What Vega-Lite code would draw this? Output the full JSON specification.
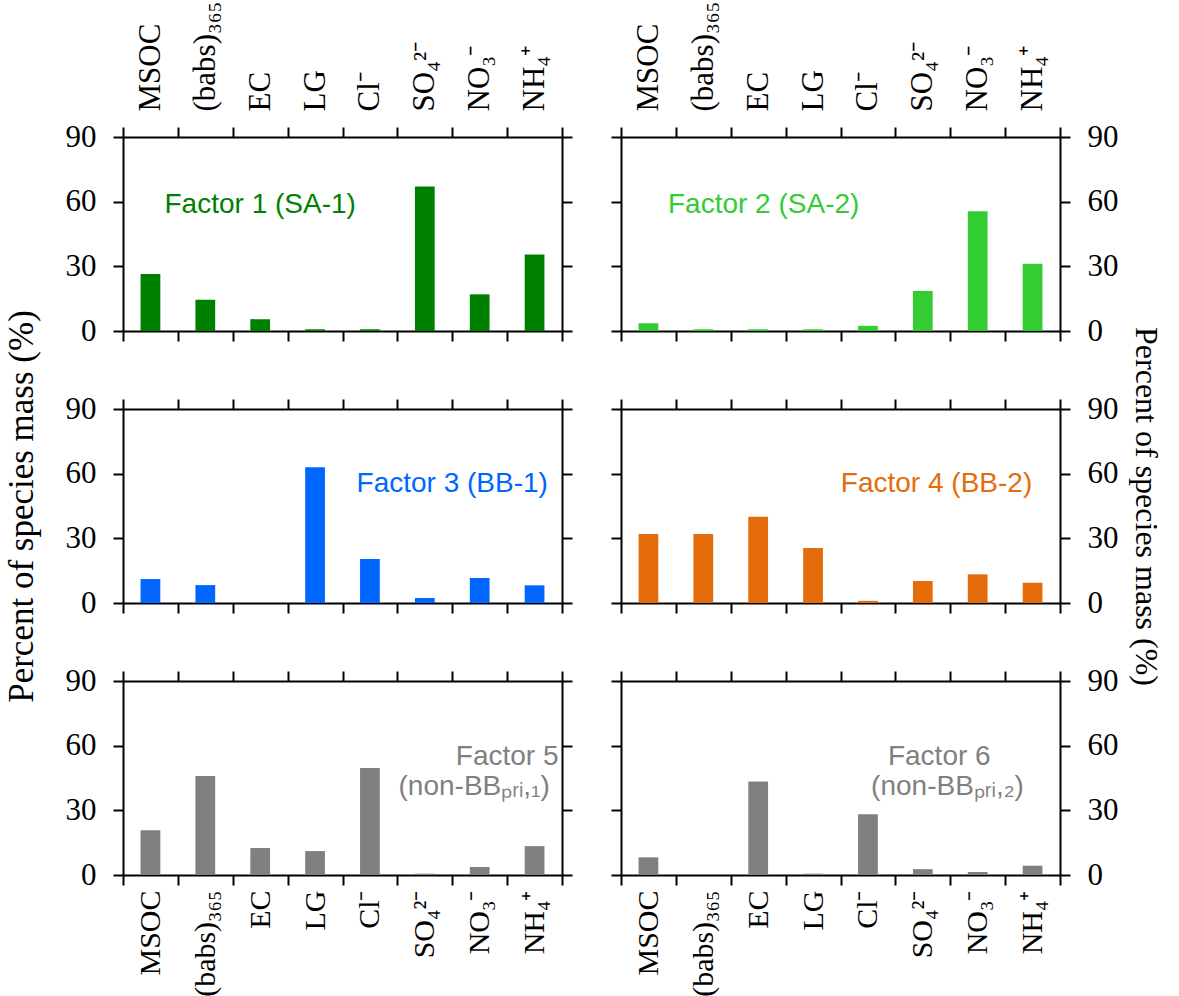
{
  "$schema": "https://vega.github.io/schema/vega-lite/v6.json",
  "padding": {"left": 3, "top": 1, "right": 0, "bottom": 0},
  "background": "white",
  "spacing": 32,
  "datasets": {
    "bars": [
      {"factor": "F1", "species": "MSOC", "value": 26.5},
      {"factor": "F1", "species": "(babs)₃₆₅", "value": 14.5},
      {"factor": "F1", "species": "EC", "value": 5.5},
      {"factor": "F1", "species": "LG", "value": 0.8},
      {"factor": "F1", "species": "Cl⁻", "value": 0.8},
      {"factor": "F1", "species": "SO₄²⁻", "value": 67},
      {"factor": "F1", "species": "NO₃⁻", "value": 17},
      {"factor": "F1", "species": "NH₄⁺", "value": 35.5},
      {"factor": "F2", "species": "MSOC", "value": 3.6},
      {"factor": "F2", "species": "(babs)₃₆₅", "value": 0.8},
      {"factor": "F2", "species": "EC", "value": 0.8},
      {"factor": "F2", "species": "LG", "value": 0.8},
      {"factor": "F2", "species": "Cl⁻", "value": 2.4},
      {"factor": "F2", "species": "SO₄²⁻", "value": 18.6},
      {"factor": "F2", "species": "NO₃⁻", "value": 55.5},
      {"factor": "F2", "species": "NH₄⁺", "value": 31.2},
      {"factor": "F3", "species": "MSOC", "value": 11.1},
      {"factor": "F3", "species": "(babs)₃₆₅", "value": 8.3},
      {"factor": "F3", "species": "EC", "value": 0},
      {"factor": "F3", "species": "LG", "value": 63},
      {"factor": "F3", "species": "Cl⁻", "value": 20.4},
      {"factor": "F3", "species": "SO₄²⁻", "value": 2.3},
      {"factor": "F3", "species": "NO₃⁻", "value": 11.6},
      {"factor": "F3", "species": "NH₄⁺", "value": 8.2},
      {"factor": "F4", "species": "MSOC", "value": 32},
      {"factor": "F4", "species": "(babs)₃₆₅", "value": 32},
      {"factor": "F4", "species": "EC", "value": 40},
      {"factor": "F4", "species": "LG", "value": 25.5},
      {"factor": "F4", "species": "Cl⁻", "value": 1},
      {"factor": "F4", "species": "SO₄²⁻", "value": 10.2},
      {"factor": "F4", "species": "NO₃⁻", "value": 13.3},
      {"factor": "F4", "species": "NH₄⁺", "value": 9.4},
      {"factor": "F5", "species": "MSOC", "value": 20.8},
      {"factor": "F5", "species": "(babs)₃₆₅", "value": 45.9},
      {"factor": "F5", "species": "EC", "value": 12.5},
      {"factor": "F5", "species": "LG", "value": 11.1},
      {"factor": "F5", "species": "Cl⁻", "value": 49.6},
      {"factor": "F5", "species": "SO₄²⁻", "value": 0.6},
      {"factor": "F5", "species": "NO₃⁻", "value": 3.7},
      {"factor": "F5", "species": "NH₄⁺", "value": 13.4},
      {"factor": "F6", "species": "MSOC", "value": 8.2},
      {"factor": "F6", "species": "(babs)₃₆₅", "value": 0},
      {"factor": "F6", "species": "EC", "value": 43.4},
      {"factor": "F6", "species": "LG", "value": 0.6},
      {"factor": "F6", "species": "Cl⁻", "value": 28.2},
      {"factor": "F6", "species": "SO₄²⁻", "value": 2.7},
      {"factor": "F6", "species": "NO₃⁻", "value": 1.4},
      {"factor": "F6", "species": "NH₄⁺", "value": 4.3}
    ],
    "labels": [
      {"factor": "F1", "line": 1, "species": "EC", "pos": 58.5, "label": "Factor 1 (SA-1)"},
      {"factor": "F2", "line": 1, "species": "EC", "pos": 58.5, "label": "Factor 2 (SA-2)"},
      {"factor": "F3", "line": 1, "species": "NO₃⁻", "pos": 55, "label": "Factor 3 (BB-1)"},
      {"factor": "F4", "line": 1, "species": "SO₄²⁻", "pos": 55, "label": "Factor 4 (BB-2)"},
      {"factor": "F5", "line": 1, "species": "NH₄⁺", "pos": 54.7, "label": "Factor 5"},
      {"factor": "F5", "line": 2, "species": "NO₃⁻", "pos": 40.8, "label": "(non-BBₚᵣᵢ,₁)"},
      {"factor": "F6", "line": 1, "species": "SO₄²⁻", "pos": 54.7, "label": "Factor 6"},
      {"factor": "F6", "line": 2, "species": "SO₄²⁻", "pos": 40.8, "label": "(non-BBₚᵣᵢ,₂)"}
    ]
  },
  "hconcat": [
    {
      "bounds": "flush",
      "spacing": 78,
      "vconcat": [
        {
          "width": 439, "height": 194,
          "resolve": {"axis": {"x": "independent", "y": "independent"}},
          "layer": [
            {
              "data": {"name": "bars"},
              "transform": [{"filter": "datum.factor == 'F1'"}],
              "mark": {"type": "bar", "color": "#008000", "width": {"band": 0.36}},
              "encoding": {
                "x": {"field": "species", "type": "nominal", "scale": {"type": "band", "domain": ["MSOC", "(babs)₃₆₅", "EC", "LG", "Cl⁻", "SO₄²⁻", "NO₃⁻", "NH₄⁺"], "paddingInner": 0, "paddingOuter": 0}, "axis": {"orient": "bottom", "title": null, "tickBand": "extent", "labels": false}},
                "y": {"field": "value", "type": "quantitative", "scale": {"domain": [0, 90], "nice": false}, "axis": {"orient": "left", "title": null, "values": [0, 30, 60, 90], "labelPadding": 17}}
              }
            },
            {
              "data": {"name": "labels"},
              "transform": [{"filter": "datum.factor == 'F1' && datum.line == 1"}],
              "mark": {"type": "text", "font": "Liberation Sans", "fontSize": 28, "color": "#008000", "align": "center", "baseline": "middle"},
              "encoding": {
                "x": {"field": "species", "type": "nominal", "bandPosition": 0.5, "scale": {"type": "band", "domain": ["MSOC", "(babs)₃₆₅", "EC", "LG", "Cl⁻", "SO₄²⁻", "NO₃⁻", "NH₄⁺"], "paddingInner": 0, "paddingOuter": 0}, "axis": {"orient": "top", "title": null, "tickBand": "extent", "labelAngle": 270, "labelAlign": "left", "labelBaseline": "middle", "labelPadding": 16}},
                "y": {"field": "pos", "type": "quantitative", "scale": {"domain": [0, 90], "nice": false}, "axis": {"orient": "right", "title": null, "values": [0, 30, 60, 90], "labels": false}},
                "text": {"field": "label"}
              }
            }
          ]
        },
        {
          "width": 439, "height": 194,
          "resolve": {"axis": {"x": "independent", "y": "independent"}},
          "layer": [
            {
              "data": {"name": "bars"},
              "transform": [{"filter": "datum.factor == 'F3'"}],
              "mark": {"type": "bar", "color": "#0066FF", "width": {"band": 0.36}},
              "encoding": {
                "x": {"field": "species", "type": "nominal", "scale": {"type": "band", "domain": ["MSOC", "(babs)₃₆₅", "EC", "LG", "Cl⁻", "SO₄²⁻", "NO₃⁻", "NH₄⁺"], "paddingInner": 0, "paddingOuter": 0}, "axis": {"orient": "bottom", "title": null, "tickBand": "extent", "labels": false}},
                "y": {"field": "value", "type": "quantitative", "scale": {"domain": [0, 90], "nice": false}, "axis": {"orient": "left", "title": "Percent of species mass (%)", "titlePadding": 26, "values": [0, 30, 60, 90], "labelPadding": 17}}
              }
            },
            {
              "data": {"name": "labels"},
              "transform": [{"filter": "datum.factor == 'F3' && datum.line == 1"}],
              "mark": {"type": "text", "font": "Liberation Sans", "fontSize": 28, "color": "#0066FF", "align": "center", "baseline": "middle"},
              "encoding": {
                "x": {"field": "species", "type": "nominal", "bandPosition": 0, "scale": {"type": "band", "domain": ["MSOC", "(babs)₃₆₅", "EC", "LG", "Cl⁻", "SO₄²⁻", "NO₃⁻", "NH₄⁺"], "paddingInner": 0, "paddingOuter": 0}, "axis": {"orient": "top", "title": null, "tickBand": "extent", "labels": false}},
                "y": {"field": "pos", "type": "quantitative", "scale": {"domain": [0, 90], "nice": false}, "axis": {"orient": "right", "title": null, "values": [0, 30, 60, 90], "labels": false}},
                "text": {"field": "label"}
              }
            }
          ]
        },
        {
          "width": 439, "height": 194,
          "resolve": {"axis": {"x": "independent", "y": "independent"}},
          "layer": [
            {
              "data": {"name": "bars"},
              "transform": [{"filter": "datum.factor == 'F5'"}],
              "mark": {"type": "bar", "color": "#808080", "width": {"band": 0.36}},
              "encoding": {
                "x": {"field": "species", "type": "nominal", "scale": {"type": "band", "domain": ["MSOC", "(babs)₃₆₅", "EC", "LG", "Cl⁻", "SO₄²⁻", "NO₃⁻", "NH₄⁺"], "paddingInner": 0, "paddingOuter": 0}, "axis": {"orient": "bottom", "title": null, "tickBand": "extent", "labelAngle": 270, "labelAlign": "right", "labelBaseline": "middle", "labelPadding": 5, "labelFontSize": 30}},
                "y": {"field": "value", "type": "quantitative", "scale": {"domain": [0, 90], "nice": false}, "axis": {"orient": "left", "title": null, "values": [0, 30, 60, 90], "labelPadding": 17}}
              }
            },
            {
              "data": {"name": "labels"},
              "transform": [{"filter": "datum.factor == 'F5' && datum.line == 1"}],
              "mark": {"type": "text", "font": "Liberation Sans", "fontSize": 28, "color": "#808080", "align": "center", "baseline": "middle"},
              "encoding": {
                "x": {"field": "species", "type": "nominal", "bandPosition": 0, "scale": {"type": "band", "domain": ["MSOC", "(babs)₃₆₅", "EC", "LG", "Cl⁻", "SO₄²⁻", "NO₃⁻", "NH₄⁺"], "paddingInner": 0, "paddingOuter": 0}, "axis": {"orient": "top", "title": null, "tickBand": "extent", "labels": false}},
                "y": {"field": "pos", "type": "quantitative", "scale": {"domain": [0, 90], "nice": false}, "axis": {"orient": "right", "title": null, "values": [0, 30, 60, 90], "labels": false}},
                "text": {"field": "label"}
              }
            },
            {
              "data": {"name": "labels"},
              "transform": [{"filter": "datum.factor == 'F5' && datum.line == 2"}],
              "mark": {"type": "text", "font": "Liberation Sans", "fontSize": 28, "color": "#808080", "align": "center", "baseline": "middle"},
              "encoding": {
                "x": {"field": "species", "type": "nominal", "bandPosition": 0.4, "scale": {"type": "band", "domain": ["MSOC", "(babs)₃₆₅", "EC", "LG", "Cl⁻", "SO₄²⁻", "NO₃⁻", "NH₄⁺"], "paddingInner": 0, "paddingOuter": 0}, "axis": null},
                "y": {"field": "pos", "type": "quantitative", "scale": {"domain": [0, 90], "nice": false}, "axis": null},
                "text": {"field": "label"}
              }
            }
          ]
        }
      ]
    },
    {
      "bounds": "flush",
      "spacing": 78,
      "vconcat": [
        {
          "width": 439, "height": 194,
          "resolve": {"axis": {"x": "independent", "y": "independent"}},
          "layer": [
            {
              "data": {"name": "bars"},
              "transform": [{"filter": "datum.factor == 'F2'"}],
              "mark": {"type": "bar", "color": "#33CC33", "width": {"band": 0.36}},
              "encoding": {
                "x": {"field": "species", "type": "nominal", "scale": {"type": "band", "domain": ["MSOC", "(babs)₃₆₅", "EC", "LG", "Cl⁻", "SO₄²⁻", "NO₃⁻", "NH₄⁺"], "paddingInner": 0, "paddingOuter": 0}, "axis": {"orient": "bottom", "title": null, "tickBand": "extent", "labels": false}},
                "y": {"field": "value", "type": "quantitative", "scale": {"domain": [0, 90], "nice": false}, "axis": {"orient": "left", "title": null, "values": [0, 30, 60, 90], "labels": false}}
              }
            },
            {
              "data": {"name": "labels"},
              "transform": [{"filter": "datum.factor == 'F2' && datum.line == 1"}],
              "mark": {"type": "text", "font": "Liberation Sans", "fontSize": 28, "color": "#33CC33", "align": "center", "baseline": "middle"},
              "encoding": {
                "x": {"field": "species", "type": "nominal", "bandPosition": 0.6, "scale": {"type": "band", "domain": ["MSOC", "(babs)₃₆₅", "EC", "LG", "Cl⁻", "SO₄²⁻", "NO₃⁻", "NH₄⁺"], "paddingInner": 0, "paddingOuter": 0}, "axis": {"orient": "top", "title": null, "tickBand": "extent", "labelAngle": 270, "labelAlign": "left", "labelBaseline": "middle", "labelPadding": 16}},
                "y": {"field": "pos", "type": "quantitative", "scale": {"domain": [0, 90], "nice": false}, "axis": {"orient": "right", "title": null, "values": [0, 30, 60, 90], "labelPadding": 17}},
                "text": {"field": "label"}
              }
            }
          ]
        },
        {
          "width": 439, "height": 194,
          "resolve": {"axis": {"x": "independent", "y": "independent"}},
          "layer": [
            {
              "data": {"name": "bars"},
              "transform": [{"filter": "datum.factor == 'F4'"}],
              "mark": {"type": "bar", "color": "#E46C0A", "width": {"band": 0.36}},
              "encoding": {
                "x": {"field": "species", "type": "nominal", "scale": {"type": "band", "domain": ["MSOC", "(babs)₃₆₅", "EC", "LG", "Cl⁻", "SO₄²⁻", "NO₃⁻", "NH₄⁺"], "paddingInner": 0, "paddingOuter": 0}, "axis": {"orient": "bottom", "title": null, "tickBand": "extent", "labels": false}},
                "y": {"field": "value", "type": "quantitative", "scale": {"domain": [0, 90], "nice": false}, "axis": {"orient": "left", "title": null, "values": [0, 30, 60, 90], "labels": false}}
              }
            },
            {
              "data": {"name": "labels"},
              "transform": [{"filter": "datum.factor == 'F4' && datum.line == 1"}],
              "mark": {"type": "text", "font": "Liberation Sans", "fontSize": 28, "color": "#E46C0A", "align": "center", "baseline": "middle"},
              "encoding": {
                "x": {"field": "species", "type": "nominal", "bandPosition": 0.75, "scale": {"type": "band", "domain": ["MSOC", "(babs)₃₆₅", "EC", "LG", "Cl⁻", "SO₄²⁻", "NO₃⁻", "NH₄⁺"], "paddingInner": 0, "paddingOuter": 0}, "axis": {"orient": "top", "title": null, "tickBand": "extent", "labels": false}},
                "y": {"field": "pos", "type": "quantitative", "scale": {"domain": [0, 90], "nice": false}, "axis": {"orient": "right", "title": "Percent of species mass (%)", "titlePadding": 10, "titleFontSize": 32, "values": [0, 30, 60, 90], "labelPadding": 17}},
                "text": {"field": "label"}
              }
            }
          ]
        },
        {
          "width": 439, "height": 194,
          "resolve": {"axis": {"x": "independent", "y": "independent"}},
          "layer": [
            {
              "data": {"name": "bars"},
              "transform": [{"filter": "datum.factor == 'F6'"}],
              "mark": {"type": "bar", "color": "#808080", "width": {"band": 0.36}},
              "encoding": {
                "x": {"field": "species", "type": "nominal", "scale": {"type": "band", "domain": ["MSOC", "(babs)₃₆₅", "EC", "LG", "Cl⁻", "SO₄²⁻", "NO₃⁻", "NH₄⁺"], "paddingInner": 0, "paddingOuter": 0}, "axis": {"orient": "bottom", "title": null, "tickBand": "extent", "labelAngle": 270, "labelAlign": "right", "labelBaseline": "middle", "labelPadding": 5, "labelFontSize": 30}},
                "y": {"field": "value", "type": "quantitative", "scale": {"domain": [0, 90], "nice": false}, "axis": {"orient": "left", "title": null, "values": [0, 30, 60, 90], "labels": false}}
              }
            },
            {
              "data": {"name": "labels"},
              "transform": [{"filter": "datum.factor == 'F6' && datum.line == 1"}],
              "mark": {"type": "text", "font": "Liberation Sans", "fontSize": 28, "color": "#808080", "align": "center", "baseline": "middle"},
              "encoding": {
                "x": {"field": "species", "type": "nominal", "bandPosition": 0.8, "scale": {"type": "band", "domain": ["MSOC", "(babs)₃₆₅", "EC", "LG", "Cl⁻", "SO₄²⁻", "NO₃⁻", "NH₄⁺"], "paddingInner": 0, "paddingOuter": 0}, "axis": {"orient": "top", "title": null, "tickBand": "extent", "labels": false}},
                "y": {"field": "pos", "type": "quantitative", "scale": {"domain": [0, 90], "nice": false}, "axis": {"orient": "right", "title": null, "values": [0, 30, 60, 90], "labelPadding": 17}},
                "text": {"field": "label"}
              }
            },
            {
              "data": {"name": "labels"},
              "transform": [{"filter": "datum.factor == 'F6' && datum.line == 2"}],
              "mark": {"type": "text", "font": "Liberation Sans", "fontSize": 28, "color": "#808080", "align": "center", "baseline": "middle"},
              "encoding": {
                "x": {"field": "species", "type": "nominal", "bandPosition": 0.95, "scale": {"type": "band", "domain": ["MSOC", "(babs)₃₆₅", "EC", "LG", "Cl⁻", "SO₄²⁻", "NO₃⁻", "NH₄⁺"], "paddingInner": 0, "paddingOuter": 0}, "axis": null},
                "y": {"field": "pos", "type": "quantitative", "scale": {"domain": [0, 90], "nice": false}, "axis": null},
                "text": {"field": "label"}
              }
            }
          ]
        }
      ]
    }
  ],
  "config": {
    "view": {"stroke": null},
    "axis": {
      "domainColor": "#000000",
      "domainWidth": 2,
      "tickColor": "#000000",
      "tickWidth": 2,
      "tickSize": 10,
      "labelFont": "Liberation Serif",
      "labelFontSize": 31,
      "labelColor": "#000000",
      "titleFont": "Liberation Serif",
      "titleFontSize": 35,
      "titleFontWeight": "normal",
      "titleColor": "#000000",
      "grid": false,
      "labelOverlap": false,
      "labelFlush": false
    }
  }
}
